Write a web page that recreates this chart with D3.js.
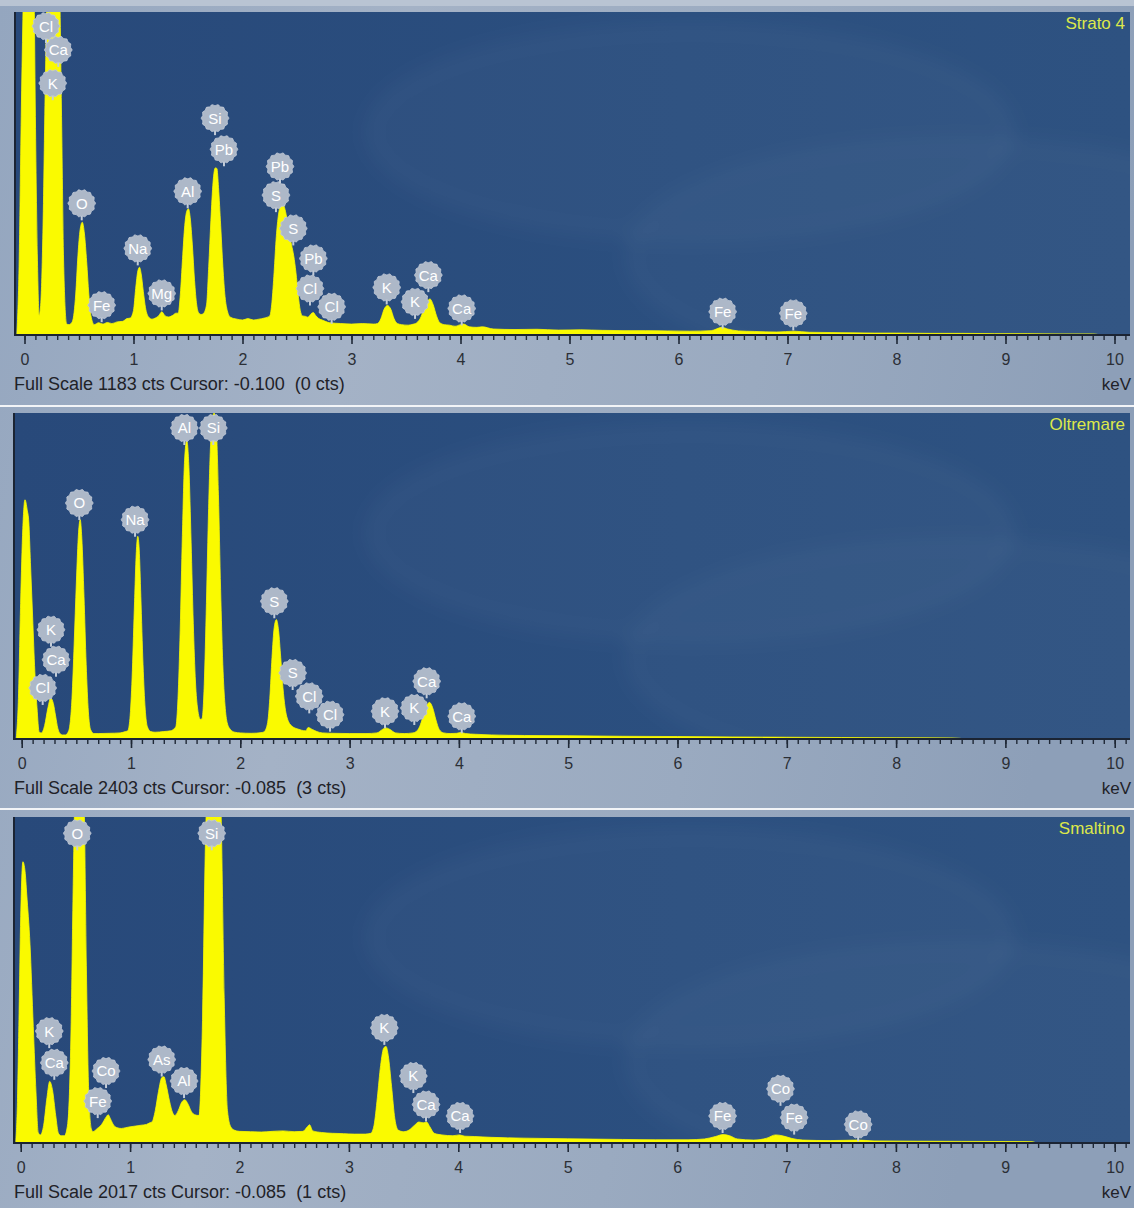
<!DOCTYPE html>
<html>
<head>
<meta charset="utf-8">
<script src="https://cdn.jsdelivr.net/npm/d3@7"></script>
<style>
  body { margin: 0; background: #ffffff; }
  svg { display: block; }
  text { font-family: "Liberation Sans", Arial, sans-serif; }
</style>
</head>
<body>
<svg id="chart" width="1134" height="1208"></svg>
<script>
// ---- EDS spectra: energy (keV) vs counts ----
const panelTitles = ["Strato 4", "Oltremare", "Smaltino"];
const fullScale = [1183, 2403, 2017];
const cursorPositions = ["-0.100", "-0.085", "-0.085"];
const cursorCounts = [0, 3, 1];
const tickValues = [0, 1, 2, 3, 4, 5, 6, 7, 8, 9, 10];
const axisUnit = "keV";

const strato4Spectrum = [
  [-0.07,0],[-0.05,250],[-0.03,800],[0.0,1500],[0.02,2000],[0.06,2100],[0.085,1400],[0.10,800],[0.12,250],[0.135,72],[0.15,120],
  [0.17,400],[0.19,900],[0.215,1400],[0.25,1700],[0.29,1700],[0.32,1350],[0.34,800],[0.36,250],[0.387,40],
  [0.41,38],[0.44,50],[0.47,150],[0.49,290],[0.51,385],[0.53,413],[0.55,370],[0.57,270],[0.59,150],[0.61,70],[0.64,38],
  [0.68,45],[0.72,40],[0.76,46],[0.80,42],[0.85,48],[0.90,50],[0.94,60],
  [0.97,62],[1.00,90],[1.02,170],[1.04,235],[1.055,248],[1.07,225],[1.09,160],[1.11,100],[1.14,65],[1.17,58],
  [1.20,62],[1.23,70],[1.26,85],[1.29,70],[1.32,66],[1.36,72],[1.39,80],
  [1.41,80],[1.43,150],[1.45,280],[1.47,400],[1.49,455],[1.505,462],[1.52,430],[1.54,330],[1.56,200],[1.58,110],[1.60,80],[1.62,75],
  [1.64,78],[1.67,110],[1.69,250],[1.71,420],[1.73,560],[1.75,612],[1.765,610],[1.78,540],[1.80,400],[1.82,250],[1.84,140],[1.86,90],[1.89,65],
  [1.95,58],[2.0,55],[2.05,60],[2.1,55],[2.15,58],[2.2,62],
  [2.25,70],[2.27,120],[2.29,230],[2.31,360],[2.33,440],[2.35,475],[2.37,480],[2.39,460],[2.41,420],[2.43,370],[2.45,330],[2.47,290],[2.49,230],[2.51,150],[2.53,90],[2.55,70],[2.58,68],
  [2.60,65],[2.63,78],[2.65,82],[2.67,72],[2.70,60],[2.73,55],
  [2.8,45],[2.9,42],[3.0,40],[3.1,42],[3.2,40],
  [3.24,42],[3.27,60],[3.30,95],[3.33,108],[3.36,95],[3.39,60],[3.42,42],[3.46,38],[3.52,36],[3.57,40],
  [3.60,45],[3.63,60],[3.66,90],[3.69,120],[3.72,132],[3.75,110],[3.78,70],[3.81,45],[3.85,38],[3.9,36],
  [3.95,32],[4.0,38],[4.03,40],[4.08,30],[4.15,28],[4.2,30],
  [4.3,22],[4.5,20],[4.7,21],[4.9,18],[5.1,19],[5.3,17],[5.5,16],[5.7,16],[5.9,15],[6.1,14],[6.3,16],[6.4,28],[6.45,22],[6.55,15],
  [6.7,13],[6.9,11],[7.06,14],[7.2,10],[7.4,9],[7.6,8],[7.8,7],[8.0,7],[8.3,6],[8.6,6],[8.9,5],[9.2,5],[9.5,4],[9.8,4],[9.87,0]
];

const oltremareSpectrum = [
  [-0.05,0],[-0.03,300],[-0.01,1000],[0.01,1550],[0.03,1764],[0.05,1690],[0.065,1600],[0.08,1300],[0.10,900],[0.12,500],[0.14,230],[0.16,50],
  [0.18,45],[0.21,100],[0.24,230],[0.265,302],[0.29,260],[0.31,170],[0.33,80],[0.35,40],[0.37,30],
  [0.40,30],[0.43,60],[0.46,300],[0.48,700],[0.50,1150],[0.52,1520],[0.535,1617],[0.55,1480],[0.57,1050],[0.59,550],[0.61,200],[0.63,70],[0.66,40],
  [0.70,40],[0.80,42],[0.90,45],[0.95,55],
  [0.97,60],[0.99,150],[1.01,450],[1.03,950],[1.05,1400],[1.062,1494],[1.075,1400],[1.09,1050],[1.11,550],[1.13,220],[1.15,90],[1.18,55],[1.22,50],[1.30,55],[1.36,60],[1.40,80],
  [1.41,90],[1.43,300],[1.45,800],[1.47,1500],[1.49,2050],[1.51,2200],[1.53,2000],[1.55,1450],[1.57,850],[1.59,420],[1.61,220],[1.635,145],
  [1.65,150],[1.67,400],[1.69,1000],[1.71,1700],[1.73,2200],[1.76,2403],[1.78,2300],[1.80,1800],[1.82,1100],[1.84,550],[1.86,250],[1.88,120],[1.91,70],[1.95,50],
  [2.0,45],[2.1,42],[2.2,48],
  [2.22,55],[2.25,120],[2.27,300],[2.29,600],[2.31,820],[2.33,880],[2.35,800],[2.37,600],[2.39,380],[2.41,230],[2.44,130],[2.48,90],[2.52,75],[2.56,65],[2.60,60],
  [2.62,85],[2.66,70],[2.70,55],[2.75,45],[2.85,42],[3.0,40],[3.15,40],[3.25,45],
  [3.30,70],[3.33,82],[3.37,70],[3.42,45],[3.50,40],[3.58,45],
  [3.61,55],[3.64,90],[3.67,160],[3.70,235],[3.73,270],[3.76,230],[3.79,140],[3.82,70],[3.86,45],[3.92,40],[3.98,42],[4.02,48],[4.06,40],[4.15,35],
  [4.3,30],[4.6,26],[5.0,24],[5.5,20],[6.0,18],[6.5,15],[7.0,13],[7.5,11],[8.0,9],[8.5,8],[8.65,0]
];

const smaltinoSpectrum = [
  [-0.045,0],[-0.03,250],[-0.015,800],[0.0,1400],[0.02,1740],[0.04,1680],[0.055,1540],[0.085,1230],[0.115,720],[0.14,310],[0.16,65],
  [0.18,50],[0.21,110],[0.24,280],[0.265,381],[0.29,330],[0.32,170],[0.345,60],[0.37,45],
  [0.40,45],[0.43,120],[0.46,700],[0.48,1600],[0.50,2300],[0.53,2600],[0.56,2400],[0.58,2100],[0.60,1100],[0.62,350],[0.645,90],
  [0.66,70],[0.70,90],[0.74,115],[0.78,160],[0.80,175],[0.82,150],[0.85,110],[0.88,95],[0.92,90],[0.96,95],[1.0,100],[1.05,105],[1.10,110],[1.15,115],[1.18,125],
  [1.20,130],[1.23,200],[1.26,320],[1.29,405],[1.31,410],[1.33,360],[1.36,260],[1.39,185],[1.41,170],
  [1.44,200],[1.47,250],[1.50,268],[1.53,240],[1.56,195],[1.59,175],[1.63,170],
  [1.66,700],[1.69,1900],[1.72,2400],[1.76,2700],[1.80,2500],[1.83,2100],[1.86,900],[1.89,200],[1.92,100],[1.95,80],
  [2.0,72],[2.1,70],[2.2,68],[2.3,72],[2.4,75],[2.5,70],[2.58,72],[2.62,100],[2.64,113],[2.67,75],[2.75,65],[2.85,60],[2.95,58],[3.05,55],[3.15,55],
  [3.20,60],[3.23,110],[3.26,280],[3.29,480],[3.32,590],[3.34,597],[3.36,540],[3.39,350],[3.42,150],[3.45,80],[3.50,70],
  [3.55,80],[3.60,110],[3.64,130],[3.68,125],[3.71,130],[3.74,100],[3.78,60],[3.85,50],[3.95,45],[4.01,50],[4.06,42],[4.15,40],
  [4.3,35],[4.6,30],[5.0,26],[5.5,22],[5.8,20],[6.1,20],[6.25,25],[6.35,40],[6.42,52],[6.48,45],[6.55,25],[6.7,18],[6.82,30],[6.9,50],
  [6.96,45],[7.05,28],[7.15,18],[7.4,15],[7.65,18],[7.8,13],[8.2,11],[8.6,10],[9.0,9],[9.25,8],[9.28,0]
];

// element markers: [symbol, line energy keV, counts where the marker stem ends]
const strato4Lines = [
  ["Cl",0.197,1069],["Ca",0.310,982],["K",0.259,860],["O",0.525,420],["Fe",0.708,47],["Na",1.039,255],
  ["Mg",1.259,90],["Al",1.497,464],["Si",1.748,732],["Pb",1.830,618],["S",2.307,450],["Pb",2.344,555],
  ["S",2.466,328],["Pb",2.650,218],["Cl",2.619,108],["Cl",2.818,41],["K",3.323,112],["K",3.583,59],
  ["Ca",3.705,157],["Ca",4.011,35],["Fe",6.405,23],["Fe",7.053,17]
];
const oltremareLines = [
  ["Al",1.488,2167],["Si",1.753,2167],["O",0.527,1614],["Na",1.037,1491],["K",0.268,680],["Ca",0.314,459],
  ["Cl",0.192,251],["S",2.311,890],["S",2.479,361],["Cl",2.631,189],["Cl",2.821,54],["K",3.324,79],
  ["K",3.592,103],["Ca",3.705,300],["Ca",4.026,42]
];
const smaltinoLines = [
  ["O",0.517,1811],["Si",1.746,1811],["K",0.261,587],["Ca",0.307,391],["Co",0.780,340],["Fe",0.704,154],
  ["As",1.289,411],["Al",1.493,278],["K",3.324,607],["K",3.589,309],["Ca",3.705,133],["Ca",4.016,62],
  ["Fe",6.416,62],["Co",6.945,230],["Fe",7.070,52],["Co",7.655,10]
];

// ---- layout of the three stacked panels ----
const layout = [
  { frameTop: 0,   top: 12,  bottom: 335,  left: 14, right: 1130, zero: 24.5, ten: 1114.5 },
  { frameTop: 407, top: 413, bottom: 739,  left: 13, right: 1130, zero: 21.7, ten: 1114.7 },
  { frameTop: 810, top: 817, bottom: 1143, left: 13, right: 1130, zero: 20.7, ten: 1114.7 }
];
const spectra = [strato4Spectrum, oltremareSpectrum, smaltinoSpectrum];
const markers = [strato4Lines, oltremareLines, smaltinoLines];

const svg = d3.select("#chart");
const defs = svg.append("defs");

// window backdrop: cloudy grey-blue
const bg = defs.append("linearGradient").attr("id", "frameBg").attr("x1", 0).attr("x2", 1).attr("y1", 0).attr("y2", 0.2);
bg.append("stop").attr("offset", "0").attr("stop-color", "#94a6bf");
bg.append("stop").attr("offset", "0.35").attr("stop-color", "#a4b2c6");
bg.append("stop").attr("offset", "0.7").attr("stop-color", "#9aaac0");
bg.append("stop").attr("offset", "1").attr("stop-color", "#8d9fb8");

const plotBg = defs.append("linearGradient").attr("id", "plotBg").attr("x1", 0).attr("x2", 1).attr("y1", 0).attr("y2", 0);
plotBg.append("stop").attr("offset", "0").attr("stop-color", "#28497a");
plotBg.append("stop").attr("offset", "0.6").attr("stop-color", "#2b4f7f");
plotBg.append("stop").attr("offset", "1").attr("stop-color", "#2e5281");

defs.append("filter").attr("id", "soft").attr("x", "-20%").attr("y", "-20%").attr("width", "140%").attr("height", "140%")
  .append("feGaussianBlur").attr("stdDeviation", 9);

svg.append("rect").attr("width", 1134).attr("height", 1208).attr("fill", "url(#frameBg)");

// bumpy badge outline for the element markers
const badgeR = 12.5;
const badgePath = d3.lineRadial().curve(d3.curveCardinalClosed)(
  d3.range(28).map(i => [i / 28 * 2 * Math.PI, badgeR + (i % 2 ? 1.3 : 0)])
);

layout.forEach((L, i) => {
  const g = svg.append("g");
  const fs = fullScale[i];

  // separator above each lower panel
  if (i > 0) {
    g.append("rect").attr("x", 0).attr("y", L.frameTop - 2).attr("width", 1134).attr("height", 2).attr("fill", "#f2f4f7");
  } else {
    g.append("rect").attr("x", 0).attr("y", 0).attr("width", 1134).attr("height", 6).attr("fill", "#b9c4d3");
  }

  const x = d3.scaleLinear().domain([0, 10]).range([L.zero, L.ten]);
  const y = d3.scaleLinear().domain([0, fs]).range([L.bottom, L.top]);

  const clipId = "clip" + i;
  defs.append("clipPath").attr("id", clipId)
    .append("rect").attr("x", L.left).attr("y", L.top).attr("width", L.right - L.left).attr("height", L.bottom - L.top);

  g.append("rect").attr("x", L.left).attr("y", L.top)
    .attr("width", L.right - L.left).attr("height", L.bottom - L.top).attr("fill", "url(#plotBg)");

  // faint background swirls of the acquisition window
  const haze = g.append("g").attr("clip-path", `url(#${clipId})`).append("g").attr("filter", "url(#soft)");
  haze.append("ellipse").attr("cx", 690).attr("cy", L.top + 120).attr("rx", 320).attr("ry", 105)
    .attr("fill", "#ffffff").attr("fill-opacity", 0.025)
    .attr("stroke", "#ffffff").attr("stroke-opacity", 0.035).attr("stroke-width", 8);
  haze.append("ellipse").attr("cx", 960).attr("cy", L.top + 245).attr("rx", 330).attr("ry", 115)
    .attr("fill", "#ffffff").attr("fill-opacity", 0.025)
    .attr("stroke", "#ffffff").attr("stroke-opacity", 0.035).attr("stroke-width", 8);

  // spectrum
  const area = d3.area()
    .x(d => x(d[0]))
    .y0(L.bottom)
    .y1(d => y(d[1]))
    .curve(d3.curveMonotoneX);
  g.append("g").attr("clip-path", `url(#${clipId})`)
    .append("path").datum(spectra[i]).attr("d", area)
    .attr("fill", "#fafa00").attr("stroke", "#fafa00").attr("stroke-width", 0.8);

  // axes lines
  g.append("line").attr("x1", L.left).attr("x2", L.right).attr("y1", L.bottom).attr("y2", L.bottom)
    .attr("stroke", "#1b2433").attr("stroke-width", 2);
  g.append("line").attr("x1", L.left + 1).attr("x2", L.left + 1).attr("y1", L.top).attr("y2", L.bottom)
    .attr("stroke", "#1b2433").attr("stroke-width", 2);

  // minor ticks every 0.1 keV, major ticks with labels at integers
  const minor = d3.axisBottom(x).tickValues(d3.range(0, 102).map(k => k / 10)).tickSize(4).tickFormat("");
  const gm = g.append("g").attr("transform", `translate(0,${L.bottom + 1})`).call(minor);
  gm.select(".domain").remove();
  gm.selectAll("line").attr("stroke", "#1f2836").attr("stroke-width", 1.4);

  const major = d3.axisBottom(x).tickValues(tickValues).tickSize(8).tickPadding(10).tickFormat(d3.format("d"));
  const gM = g.append("g").attr("transform", `translate(0,${L.bottom + 1})`).call(major);
  gM.select(".domain").remove();
  gM.selectAll("line").attr("stroke", "#1f2836").attr("stroke-width", 1.6);
  gM.selectAll("text").attr("font-size", 16).attr("fill", "#2b2f36")
    .attr("font-family", "'Liberation Sans', Arial, sans-serif");

  // status line and unit
  g.append("text").attr("x", 14).attr("y", L.bottom + 55)
    .attr("font-size", 18).attr("fill", "#1f2228").style("white-space", "pre")
    .text(`Full Scale ${fs} cts Cursor: ${cursorPositions[i]}  (${cursorCounts[i]} cts)`);
  g.append("text").attr("x", 1131).attr("y", L.bottom + 55).attr("text-anchor", "end")
    .attr("font-size", 17).attr("fill", "#1f2228").text(axisUnit);

  // sample name
  g.append("text").attr("x", 1125).attr("y", L.top + 17).attr("text-anchor", "end")
    .attr("font-size", 17).attr("fill", "#dde84a").text(panelTitles[i]);

  // element markers
  const mk = g.append("g").selectAll("g").data(markers[i]).join("g")
    .attr("transform", d => `translate(${x(d[1])},${y(d[2]) - 17})`);
  mk.append("line").attr("x1", 0).attr("x2", 0).attr("y1", badgeR).attr("y2", 17)
    .attr("stroke", "#c3ccd8").attr("stroke-width", 2);
  mk.append("path").attr("d", badgePath).attr("fill", "#adb8c8").attr("stroke", "#c4ccd8").attr("stroke-width", 0.8);
  mk.append("text").attr("text-anchor", "middle").attr("dy", "0.36em")
    .attr("font-size", 15).attr("fill", "#ffffff").text(d => d[0]);
});
</script>
</body>
</html>
